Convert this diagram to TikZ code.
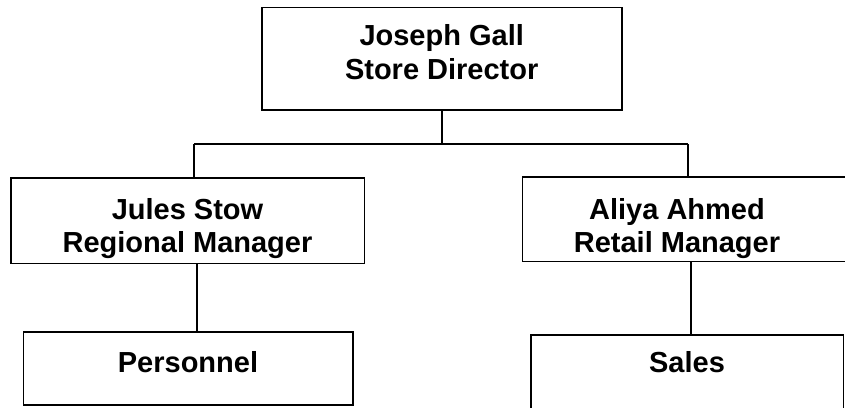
\documentclass[tikz,border=0pt]{standalone}
\usepackage{fontspec}
\setmainfont{Liberation Sans}
\begin{document}
\begin{tikzpicture}[x=1pt,y=-1pt,
  box/.style={draw=black, line width=1.6pt, fill=white, inner sep=0pt},
  lbl/.style={font=\bfseries\fontsize{29}{33.4}\selectfont, align=center,
              anchor=north, inner sep=0pt},
  link/.style={draw=black, line width=1.6pt}]
\useasboundingbox (0,0) rectangle (845,407);
\clip (0,0) rectangle (845,407);

% boxes
\node[box, minimum width=360,   minimum height=102.7] (top)   at (441.7,58.65) {};
\node[box, minimum width=353.3, minimum height=85.6]  (jules) at (187.65,220.5) {};
\node[box, minimum width=339.7, minimum height=84.8]  (aliya) at (692.15,219.1) {};
\node[box, minimum width=329.4, minimum height=73]    (pers)  at (188,368.5) {};
\node[box, minimum width=312.3, minimum height=90]    (sales) at (687.15,380) {};

% labels
\node[lbl] (topT)   at (441.7,24.5)  {Joseph Gall\\Store Director};
\node[lbl] (julesT) at (187.5,197.8) {Jules Stow\\Regional Manager};
\node[lbl] (aliyaT) at (677,197.8)   {Aliya Ahmed\\Retail Manager};
\node[lbl] (persT)  at (188,351.2)   {Personnel};
\node[lbl] (salesT) at (687,351.2)   {Sales};

% connectors
\coordinate (busL) at (194,144);
\coordinate (busR) at (687.7,144);
\coordinate (dropL) at (197,300);
\coordinate (dropR) at (690.7,300);
\draw[link] (top.south) -- (top.south |- busL);
\draw[link] (busL) -- (busR);
\draw[link] (busL) -- (busL |- jules.north);
\draw[link] (busR) -- (busR |- aliya.north);
\draw[link] (dropL |- jules.south) -- (dropL |- pers.north);
\draw[link] (dropR |- aliya.south) -- (dropR |- sales.north);
\end{tikzpicture}
\end{document}
